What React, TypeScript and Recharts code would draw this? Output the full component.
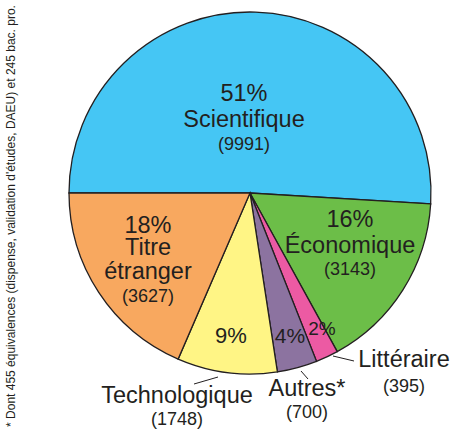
import { PieChart, Pie, Cell } from 'recharts';

const CATEGORIES = ['Scientifique', 'Économique', 'Littéraire', 'Autres*', 'Technologique', 'Titre étranger'];
const COUNTS = [9991, 3143, 395, 700, 1748, 3627];
const PERCENTS = ['51%', '16%', '2%', '4%', '9%', '18%'];
const FOOTNOTE = "* Dont 455 équivalences (dispense, validation d'études, DAEU) et 245 bac. pro.";

const COLORS = ['#45C6F4', '#6CBE48', '#EC5AA3', '#8C73A0', '#FFF585', '#F8A85F'];
const INK = '#231F20';
const FONT = '"Liberation Sans", Arial, sans-serif';

// label layout, offsets from the pie centre
// inner: text lines inside the slice; outer: leader line + name outside
const LAYOUT: Record<string, any> = {
  Scientifique: { dx: -6, lines: [-92, -66, -43] },
  'Économique': { dx: 100, lines: [34, 60, 82] },
  'Littéraire': { pct: { dx: 72, dy: 142, size: 19 }, text: { dx: 154, lines: [174, 199] }, line: [83, 163, 104, 168] },
  'Autres*': { pct: { dx: 40, dy: 150, size: 21 }, text: { dx: 57, lines: [203, 225] }, line: [51, 178, 58, 186] },
  Technologique: { pct: { dx: -19, dy: 150, size: 22 }, text: { dx: -73, lines: [210, 232] }, line: [-32, 184, -56, 191] },
  'Titre étranger': { dx: -102, lines: [40, 62, 86, 109] },
};

const data = CATEGORIES.map((name, i) => ({ name, value: COUNTS[i] }));

const renderLabel = (props: any) => {
  const { cx, cy, index } = props;
  const name = CATEGORIES[index];
  const l = LAYOUT[name];
  const big = { fontFamily: FONT, fontSize: 23.5, fill: INK, textAnchor: 'middle' as const };
  const small = { ...big, fontSize: 18 };

  if (l.lines) {
    const words = name === 'Titre étranger' ? ['Titre', 'étranger'] : [name];
    const rows = [PERCENTS[index], ...words];
    return (
      <g>
        {rows.map((t, k) => (
          <text key={k} x={cx + l.dx} y={cy + l.lines[k]} {...big}>{t}</text>
        ))}
        <text x={cx + l.dx} y={cy + l.lines[rows.length]} {...small}>({COUNTS[index]})</text>
      </g>
    );
  }

  return (
    <g>
      <text x={cx + l.pct.dx} y={cy + l.pct.dy} {...big} fontSize={l.pct.size}>{PERCENTS[index]}</text>
      <line
        x1={cx + l.line[0]} y1={cy + l.line[1]} x2={cx + l.line[2]} y2={cy + l.line[3]}
        stroke={INK} strokeWidth={1}
      />
      <text x={cx + l.text.dx} y={cy + l.text.lines[0]} {...big}>{name}</text>
      <text x={cx + l.text.dx} y={cy + l.text.lines[1]} {...small}>({COUNTS[index]})</text>
    </g>
  );
};

export default function App() {
  return (
    <div style={{ position: 'absolute', left: 0, top: 0, width: 453, height: 430, background: '#fff' }}>
      <PieChart width={453} height={430} margin={{ top: 0, right: 0, bottom: 0, left: 0 }}>
        <Pie
          data={data}
          dataKey="value"
          cx={250}
          cy={193}
          outerRadius={181}
          startAngle={180}
          endAngle={-180}
          stroke={INK}
          strokeWidth={1.3}
          label={renderLabel}
          labelLine={false}
          isAnimationActive={false}
        >
          {data.map((_, i) => (
            <Cell key={`cell-${i}`} fill={COLORS[i]} />
          ))}
        </Pie>
      </PieChart>
      <svg width={24} height={430} style={{ position: 'absolute', left: 0, top: 0 }}>
        <text
          x={0}
          y={0}
          transform="translate(15 216) rotate(-90)"
          textAnchor="middle"
          fontFamily={FONT}
          fontSize={12}
          fill={INK}
        >
          {FOOTNOTE}
        </text>
      </svg>
    </div>
  );
}
